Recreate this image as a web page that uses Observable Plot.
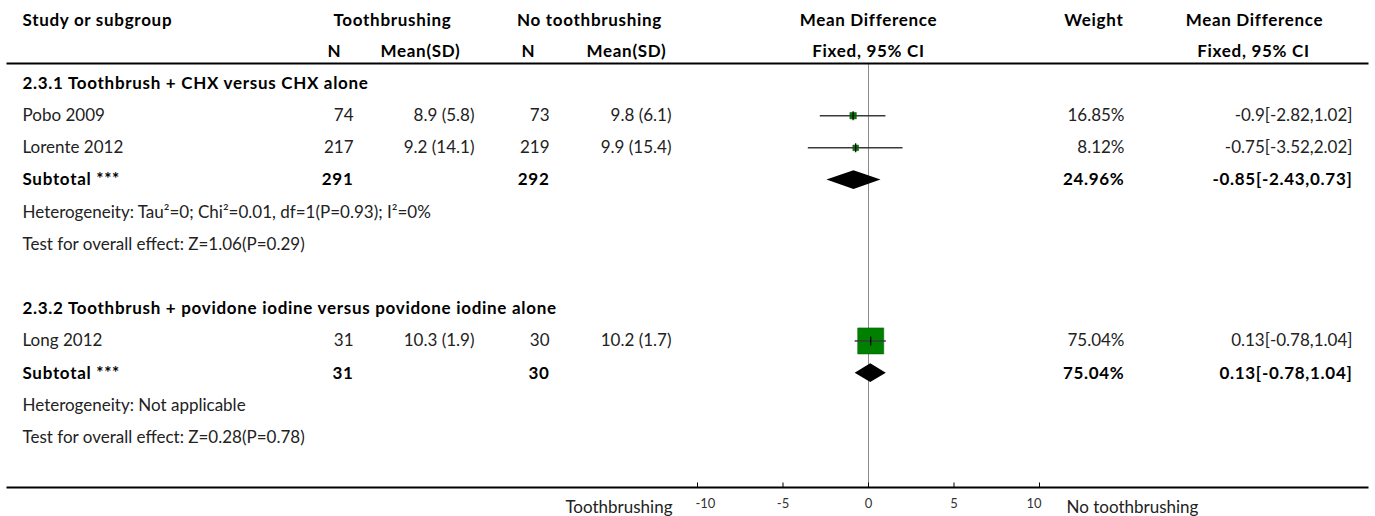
<!DOCTYPE html>
<html><head><meta charset="utf-8">
<script src="https://cdn.jsdelivr.net/npm/d3@7"></script>
<script src="https://cdn.jsdelivr.net/npm/@observablehq/plot@0.6"></script>
<style>body{margin:0;background:#fff}</style>
</head><body><div id="chart"></div>
<script>
// ---- data ----
const groupTitles = ["2.3.1 Toothbrush + CHX versus CHX alone", "2.3.2 Toothbrush + povidone iodine versus povidone iodine alone"];
const studyNames = ["Pobo 2009", "Lorente 2012", "Long 2012"];
const studyGroup = [0, 0, 1];
const tbN = [74, 217, 31];
const tbMeanSD = ["8.9 (5.8)", "9.2 (14.1)", "10.3 (1.9)"];
const ntbN = [73, 219, 30];
const ntbMeanSD = ["9.8 (6.1)", "9.9 (15.4)", "10.2 (1.7)"];
const studyMD = [-0.9, -0.75, 0.13];
const studyLo = [-2.82, -3.52, -0.78];
const studyHi = [1.02, 2.02, 1.04];
const studyWeight = [16.85, 8.12, 75.04];
const subTbN = [291, 31];
const subNtbN = [292, 30];
const subWeight = [24.96, 75.04];
const subMD = [-0.85, 0.13];
const subLo = [-2.43, -0.78];
const subHi = [0.73, 1.04];
const heterogeneity = ["Heterogeneity: Tau\u00B2=0; Chi\u00B2=0.01, df=1(P=0.93); I\u00B2=0%", "Heterogeneity: Not applicable"];
const overallEffect = ["Test for overall effect: Z=1.06(P=0.29)", "Test for overall effect: Z=0.28(P=0.78)"];
const xTicks = [-10, -5, 0, 5, 10];
const favoursLeft = "Toothbrushing";
const favoursRight = "No toothbrushing";
const headTop = ["Study or subgroup", "Toothbrushing", "No toothbrushing", "Mean Difference", "Weight", "Mean Difference"];
const headSub = ["N", "Mean(SD)", "N", "Mean(SD)", "Fixed, 95% CI", "Fixed, 95% CI"];

// ---- build rows ----
const rows = [];
let r = 0;
groupTitles.forEach((title, g) => {
  rows.push({row: r++, kind: "group", label: title});
  studyNames.forEach((name, i) => {
    if (studyGroup[i] !== g) return;
    rows.push({row: r++, kind: "study", label: name, nT: tbN[i], mT: tbMeanSD[i], nC: ntbN[i], mC: ntbMeanSD[i],
      md: studyMD[i], lo: studyLo[i], hi: studyHi[i], w: studyWeight[i]});
  });
  rows.push({row: r++, kind: "subtotal", label: "Subtotal ***", nT: subTbN[g], nC: subNtbN[g],
    md: subMD[g], lo: subLo[g], hi: subHi[g], w: subWeight[g]});
  rows.push({row: r++, kind: "note", label: heterogeneity[g]});
  rows.push({row: r++, kind: "note", label: overallEffect[g]});
  r++;
});
const studyRows = rows.filter(d => d.kind === "study");
const subRows = rows.filter(d => d.kind === "subtotal");
const groupRows = rows.filter(d => d.kind === "group");
const noteRows = rows.filter(d => d.kind === "note");
const ciText = d => `${d.md}[${d.lo},${d.hi}]`;
const wText = d => `${d.w}%`;

// diamonds as areas
const DH = 0.29;
const diamonds = subRows.flatMap(d => [
  {id: d.row, x: d.lo, y1: d.row, y2: d.row},
  {id: d.row, x: d.md, y1: d.row - DH, y2: d.row + DH},
  {id: d.row, x: d.hi, y1: d.row, y2: d.row}
]);

// ---- layout ----
const W = 1375, H = 516, ML = 7, MR = 8, MT = 63, MB = 29;
const FS = 17, FONT = "Lato, 'Source Sans Pro', sans-serif";
const TXT = "#222";
const vtick = {draw(ctx, size) { const h = Math.sqrt(size / Math.PI); ctx.moveTo(0, -h); ctx.lineTo(0, h); }};

function col(data, text, px, anchor, bold) {
  return Plot.text(data, {y: "row", text, frameAnchor: "left", dx: px - ML, textAnchor: anchor, lineAnchor: "middle",
    fontSize: FS, fontWeight: bold ? "bold" : "normal", fill: bold ? "#000" : TXT});
}
function head(label, px, py, anchor) {
  return Plot.text([label], {text: d => d, frameAnchor: "top-left", dx: px - ML, dy: py - MT, lineAnchor: "middle",
    textAnchor: anchor, fontSize: FS, fontWeight: "bold", fill: "#000"});
}
function headX(label, py) {
  return Plot.text([label], {x: () => 0, text: d => d, frameAnchor: "top", dy: py - MT, lineAnchor: "middle",
    fontSize: FS, fontWeight: "bold", fill: "#000"});
}
function tickLabels(data, anchor, dx) {
  return Plot.text(data, {x: d => d, text: d => String(d), frameAnchor: "bottom", dx, dy: 16, lineAnchor: "middle",
    textAnchor: anchor, fontSize: 13, fill: "#333"});
}

const chart = Plot.plot({
  width: W, height: H,
  marginLeft: ML, marginRight: MR, marginTop: MT, marginBottom: MB,
  style: {fontFamily: FONT, background: "#fff"},
  x: {domain: [-10, 10], range: [697, 1039], axis: null},
  y: {domain: d3.extent(rows, d => d.row), range: [83, 437], axis: null},
  r: {type: "pow", exponent: 2, domain: d3.extent(studyWeight), range: [3.2, 14.7]},
  marks: [
    Plot.ruleX([0], {stroke: "#8c8c8c", strokeWidth: 1}),
    Plot.frame({anchor: "top", strokeWidth: 2, stroke: "#000"}),
    Plot.frame({anchor: "bottom", strokeWidth: 2, stroke: "#000"}),
    // headers
    head(headTop[0], 22, 20, "start"),
    head(headTop[1], 392, 20, "middle"),
    head(headTop[2], 589, 20, "middle"),
    headX(headTop[3], 20),
    head(headTop[4], 1123, 20, "end"),
    head(headTop[5], 1254, 20, "middle"),
    head(headSub[0], 334, 51, "middle"),
    head(headSub[1], 420, 51, "middle"),
    head(headSub[2], 528, 51, "middle"),
    head(headSub[3], 626, 51, "middle"),
    headX(headSub[4], 51),
    head(headSub[5], 1253, 51, "middle"),
    // rows
    col(groupRows, "label", 22, "start", true),
    col(studyRows, "label", 22, "start", false),
    col(studyRows, "nT", 353, "end", false),
    col(studyRows, "mT", 474, "end", false),
    col(studyRows, "nC", 549, "end", false),
    col(studyRows, "mC", 671, "end", false),
    col(studyRows, wText, 1124, "end", false),
    col(studyRows, ciText, 1352, "end", false),
    col(subRows, "label", 22, "start", true),
    col(subRows, "nT", 353, "end", true),
    col(subRows, "nC", 549, "end", true),
    col(subRows, wText, 1124, "end", true),
    col(subRows, ciText, 1352, "end", true),
    col(noteRows, "label", 22, "start", false),
    // forest
    Plot.dot(studyRows, {x: "md", y: "row", r: "w", symbol: "square", fill: "#008000", stroke: "#005a00", strokeWidth: 0.5}),
    Plot.ruleY(studyRows, {y: "row", x1: "lo", x2: "hi", stroke: "#3a3a3a", strokeWidth: 1.5}),
    Plot.dot(studyRows, {x: "md", y: "row", r: 4.5, symbol: vtick, fill: "none", stroke: "#000", strokeWidth: 1.2}),
    Plot.areaY(diamonds, {x: "x", y1: "y1", y2: "y2", z: "id", fill: "#000"}),
    // axis
    Plot.dot(xTicks, {x: d => d, frameAnchor: "bottom", r: 2.5, dy: -2.5, symbol: vtick, fill: "none", stroke: "#000", strokeWidth: 1}),
    tickLabels(xTicks.slice(0, 1), "start", -2),
    tickLabels(xTicks.slice(1, -1), "middle", 0),
    tickLabels(xTicks.slice(-1), "end", 2),
    Plot.text([favoursLeft], {x: () => xTicks[0], text: d => d, frameAnchor: "bottom", dx: -25, dy: 20, lineAnchor: "middle", textAnchor: "end", fontSize: FS, fill: TXT}),
    Plot.text([favoursRight], {x: () => xTicks[xTicks.length - 1], text: d => d, frameAnchor: "bottom", dx: 27, dy: 20, lineAnchor: "middle", textAnchor: "start", fontSize: FS, fill: TXT})
  ]
});
d3.select(chart).selectAll("g[font-weight='bold']").attr("letter-spacing", "0.7px");
document.getElementById("chart").append(chart);
</script>
</body></html>
